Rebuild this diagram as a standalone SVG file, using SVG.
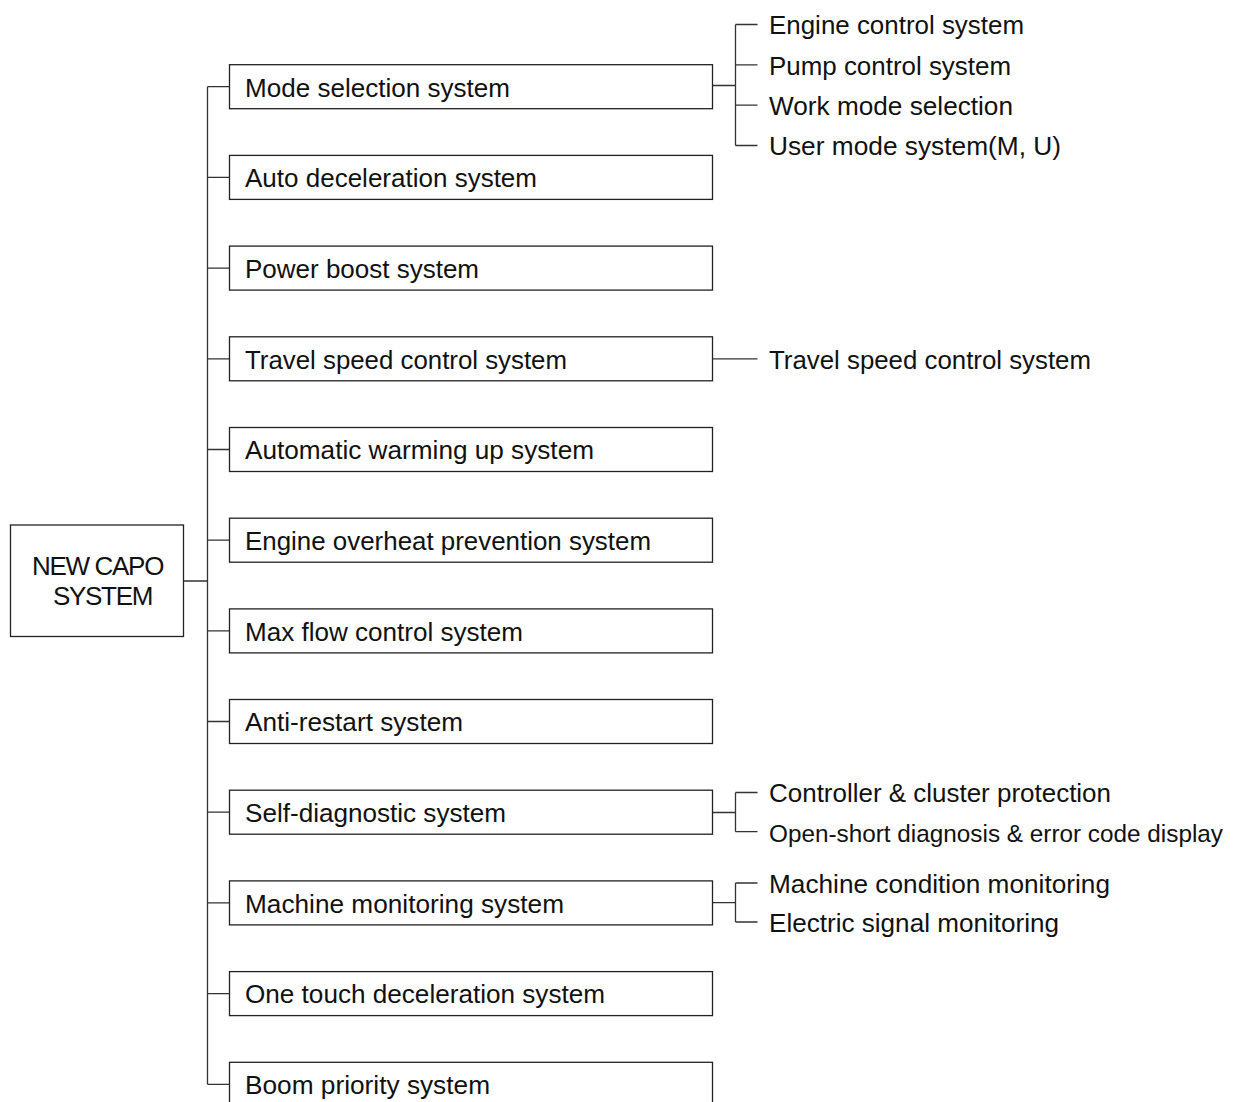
<svg xmlns="http://www.w3.org/2000/svg" width="1238" height="1102" viewBox="0 0 1238 1102">
<style>
.box{fill:#fff;stroke:#222;stroke-width:1.3}
.ln{fill:none;stroke:#333;stroke-width:1.3}
.t{font-family:"Liberation Sans",Arial,sans-serif;font-size:26px;fill:#111}
.r{font-family:"Liberation Sans",Arial,sans-serif;font-size:26px;fill:#111;letter-spacing:-1.3px}
</style>
<rect width="1238" height="1102" fill="#fff"/>
<g id="connectors">
<path class="ln" d="M183.5 581H207.5M207.5 86.7V1084.3"/>
<path class="ln" d="M207.5 86.7H229.5M207.5 177.4H229.5M207.5 268.1H229.5M207.5 358.8H229.5M207.5 449.5H229.5M207.5 540.2H229.5M207.5 630.9H229.5M207.5 721.5H229.5M207.5 812.2H229.5M207.5 902.9H229.5M207.5 993.6H229.5M207.5 1084.3H229.5"/>
<path class="ln" d="M712.5 85.5H735.5M735.5 24.5V145.5M735.5 24.5H757.5M735.5 64.8H757.5M735.5 105.2H757.5M735.5 145.5H757.5"/>
<path class="ln" d="M712.5 358.8H757.5"/>
<path class="ln" d="M712.5 812.5H735.5M735.5 792.5V831.7M735.5 792.5H757.5M735.5 831.7H757.5"/>
<path class="ln" d="M712.5 902.7H735.5M735.5 883H757.5M735.5 883V922M735.5 922H757.5"/>
</g>
<g id="root"><rect class="box" x="10.5" y="525" width="173" height="111.5"/><text class="r" x="97.5" y="575" text-anchor="middle">NEW CAPO</text><text class="r" x="102.5" y="605" text-anchor="middle">SYSTEM</text></g>
<g id="n1"><rect class="box" x="229.5" y="64.7" width="483" height="44"/><text class="t" x="245" y="96.5" textLength="265" lengthAdjust="spacingAndGlyphs">Mode selection system</text></g>
<g id="n2"><rect class="box" x="229.5" y="155.4" width="483" height="44"/><text class="t" x="245" y="187.2" textLength="292" lengthAdjust="spacingAndGlyphs">Auto deceleration system</text></g>
<g id="n3"><rect class="box" x="229.5" y="246.1" width="483" height="44"/><text class="t" x="245" y="277.9" textLength="234" lengthAdjust="spacingAndGlyphs">Power boost system</text></g>
<g id="n4"><rect class="box" x="229.5" y="336.8" width="483" height="44"/><text class="t" x="245" y="368.6" textLength="322" lengthAdjust="spacingAndGlyphs">Travel speed control system</text></g>
<g id="n5"><rect class="box" x="229.5" y="427.5" width="483" height="44"/><text class="t" x="245" y="459.3" textLength="349" lengthAdjust="spacingAndGlyphs">Automatic warming up system</text></g>
<g id="n6"><rect class="box" x="229.5" y="518.2" width="483" height="44"/><text class="t" x="245" y="550.2" textLength="406" lengthAdjust="spacingAndGlyphs">Engine overheat prevention system</text></g>
<g id="n7"><rect class="box" x="229.5" y="608.9" width="483" height="44"/><text class="t" x="245" y="640.7" textLength="278" lengthAdjust="spacingAndGlyphs">Max flow control system</text></g>
<g id="n8"><rect class="box" x="229.5" y="699.5" width="483" height="44"/><text class="t" x="245" y="731.3" textLength="218" lengthAdjust="spacingAndGlyphs">Anti-restart system</text></g>
<g id="n9"><rect class="box" x="229.5" y="790.2" width="483" height="44"/><text class="t" x="245" y="822" textLength="261" lengthAdjust="spacingAndGlyphs">Self-diagnostic system</text></g>
<g id="n10"><rect class="box" x="229.5" y="880.9" width="483" height="44"/><text class="t" x="245" y="912.7" textLength="319" lengthAdjust="spacingAndGlyphs">Machine monitoring system</text></g>
<g id="n11"><rect class="box" x="229.5" y="971.6" width="483" height="44"/><text class="t" x="245" y="1003.4" textLength="360" lengthAdjust="spacingAndGlyphs">One touch deceleration system</text></g>
<g id="n12"><rect class="box" x="229.5" y="1062.3" width="483" height="44"/><text class="t" x="245" y="1094.1" textLength="245" lengthAdjust="spacingAndGlyphs">Boom priority system</text></g>
<g id="c1"><text class="t" x="769" y="34" textLength="255" lengthAdjust="spacingAndGlyphs">Engine control system</text></g>
<g id="c2"><text class="t" x="769" y="74.5" textLength="242" lengthAdjust="spacingAndGlyphs">Pump control system</text></g>
<g id="c3"><text class="t" x="769" y="115" textLength="244" lengthAdjust="spacingAndGlyphs">Work mode selection</text></g>
<g id="c4"><text class="t" x="769" y="155.3" textLength="292" lengthAdjust="spacingAndGlyphs">User mode system(M, U)</text></g>
<g id="c5"><text class="t" x="769" y="368.6" textLength="322" lengthAdjust="spacingAndGlyphs">Travel speed control system</text></g>
<g id="c6"><text class="t" x="769" y="802.3" textLength="342" lengthAdjust="spacingAndGlyphs">Controller &amp; cluster protection</text></g>
<g id="c7"><text class="t" x="769" y="841.5" style="font-size:24.6px" textLength="454" lengthAdjust="spacingAndGlyphs">Open-short diagnosis &amp; error code display</text></g>
<g id="c8"><text class="t" x="769" y="892.8" textLength="341" lengthAdjust="spacingAndGlyphs">Machine condition monitoring</text></g>
<g id="c9"><text class="t" x="769" y="931.8" textLength="290" lengthAdjust="spacingAndGlyphs">Electric signal monitoring</text></g>
</svg>
